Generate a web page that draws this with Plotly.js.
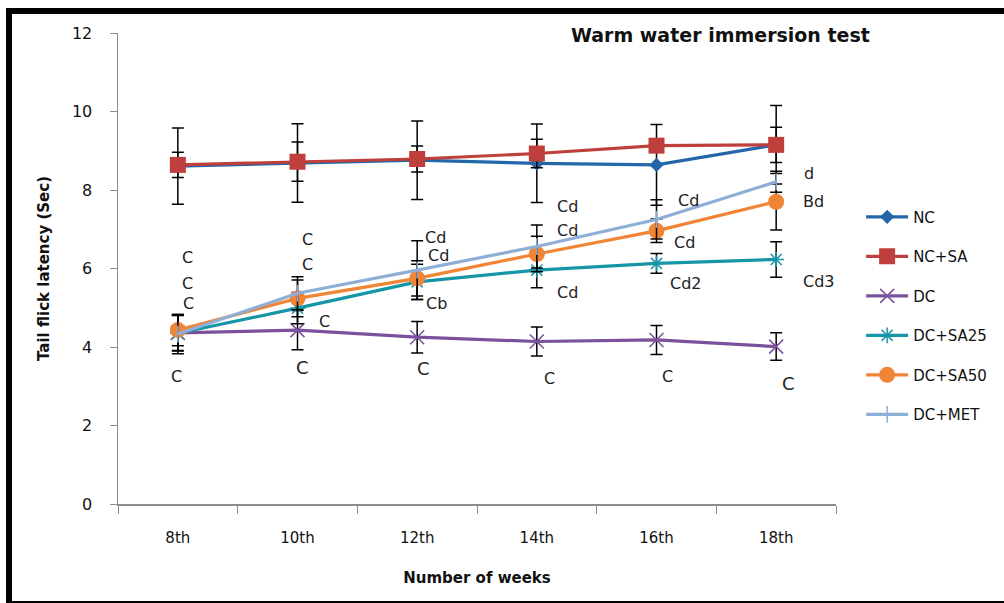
<!DOCTYPE html>
<html>
<head>
<meta charset="utf-8">
<script src="https://cdn.plot.ly/plotly-3.0.1.min.js"></script>
<style>
html,body{margin:0;padding:0;background:#fff;overflow:hidden;}
#chart{width:1004px;height:603px;}
#frame{position:absolute;left:6px;top:8px;width:1010px;height:599px;box-sizing:border-box;border:6px solid #000;pointer-events:none;}
</style>
</head>
<body>
<div id="chart"></div>
<div id="frame"></div>
<script>
const weeks = ["8th", "10th", "12th", "14th", "16th", "18th"];

const nc        = [8.61, 8.69, 8.76, 8.68, 8.64, 9.15];
const ncErr     = [0.97, 1.00, 1.00, 1.00, 1.03, 1.00];
const ncSa      = [8.64, 8.72, 8.79, 8.93, 9.13, 9.15];
const ncSaErr   = [0.32, 0.50, 0.33, 0.36, 0.17, 0.45];
const dc        = [4.36, 4.43, 4.25, 4.14, 4.18, 4.01];
const dcErr     = [0.45, 0.50, 0.40, 0.37, 0.37, 0.35];
const dcSa25    = [4.35, 4.99, 5.66, 5.96, 6.13, 6.23];
const dcSa25Err = [0.45, 0.40, 0.45, 0.45, 0.25, 0.45];
const dcSa50    = [4.43, 5.24, 5.75, 6.37, 6.96, 7.70];
const dcSa50Err = [0.40, 0.47, 0.45, 0.45, 0.30, 0.72];
const dcMet     = [4.33, 5.37, 5.96, 6.56, 7.25, 8.21];
const dcMetErr  = [0.50, 0.42, 0.75, 0.55, 0.50, 0.27];

// significance letters: [category index position, y value, text, size]
const sigLabels = [
  [0.02, 6.27, "C", 16], [0.02, 5.63, "C", 16], [0.03, 5.12, "C", 16], [-0.07, 3.26, "C", 16],
  [1.02, 6.73, "C", 16], [1.02, 6.11, "C", 16], [1.16, 4.66, "C", 16], [0.97, 3.49, "C", 18],
  [2.05, 6.80, "Cd", 16], [2.07, 6.34, "Cd", 16], [2.06, 5.10, "Cb", 16], [1.98, 3.44, "C", 18],
  [3.15, 7.57, "Cd", 16], [3.15, 6.96, "Cd", 16], [3.15, 5.38, "Cd", 16], [3.04, 3.21, "C", 16],
  [4.16, 7.72, "Cd", 16], [4.13, 6.65, "Cd", 16], [4.10, 5.61, "Cd2", 16], [4.03, 3.24, "C", 16],
  [5.22, 8.43, "d", 16], [5.21, 7.71, "Bd", 16], [5.21, 5.66, "Cd3", 16], [5.03, 3.06, "C", 18]
];

function series(name, y, err, color, symbol, msize, mline) {
  return {
    type: "scatter", mode: "lines+markers", name: name, x: weeks, y: y,
    legendgroup: name,
    line: {color: color, width: 3.2},
    marker: {symbol: symbol, size: msize, color: color, line: {color: color, width: mline}},
    error_y: {type: "data", array: err, visible: true, color: "#000", thickness: 1.5, width: 6}
  };
}

const data = [
  series("NC", nc, ncErr, "#2367A8", "diamond", 11, 0),
  series("NC+SA", ncSa, ncSaErr, "#BE3F3B", "square", 16, 0),
  series("DC", dc, dcErr, "#7B519D", "x-thin-open", 14, 1.5),
  series("DC+SA25", dcSa25, dcSa25Err, "#1596A6", "asterisk-open", 13, 1.5),
  series("DC+SA50", dcSa50, dcSa50Err, "#F08536", "circle", 16, 0),
  series("DC+MET", dcMet, dcMetErr, "#8DAFD7", "line-ns-open", 12, 1.5)
];

const annotations = sigLabels.map(s => ({
  x: s[0], y: s[1], xref: "x", yref: "y", text: s[2], showarrow: false,
  xanchor: "left", yanchor: "middle",
  font: {family: "DejaVu Sans, sans-serif", size: s[3], color: "#222"}
}));

const layout = {
  width: 1004, height: 603,
  margin: {l: 118, r: 166, t: 33, b: 99},
  paper_bgcolor: "#fff", plot_bgcolor: "#fff",
  showlegend: true,
  title: {
    text: "<b>Warm water immersion test</b>",
    font: {family: "DejaVu Sans, sans-serif", size: 19, color: "#111"},
    x: 0.839, xref: "paper", xanchor: "center", y: 0.942, yref: "container", yanchor: "middle"
  },
  xaxis: {
    type: "category", range: [-0.5, 5.5],
    showline: true, linecolor: "#8c8c8c", linewidth: 1.5,
    ticks: "outside", ticklen: 8, tickcolor: "#8c8c8c", tickson: "boundaries",
    ticklabelstandoff: 19,
    showgrid: false, zeroline: false,
    tickfont: {family: "DejaVu Sans, sans-serif", size: 15, color: "#111"},
    title: {text: "<b>Number of weeks</b>", standoff: 27,
      font: {family: "DejaVu Sans, sans-serif", size: 15, color: "#111"}}
  },
  yaxis: {
    range: [0, 12], dtick: 2, tick0: 0,
    showline: true, linecolor: "#8c8c8c", linewidth: 1.5,
    ticks: "outside", ticklen: 7, tickcolor: "#8c8c8c",
    ticklabelstandoff: 14,
    showgrid: false, zeroline: false,
    tickfont: {family: "DejaVu Sans, sans-serif", size: 16, color: "#111"},
    title: {text: "<b>Tail flick latency (Sec)</b>", standoff: 18,
      font: {family: "DejaVu Sans, sans-serif", size: 15, color: "#111"}}
  },
  legend: {
    x: 1.035, xanchor: "left", y: 0.40, yanchor: "middle",
    font: {family: "DejaVu Sans, sans-serif", size: 15, color: "#111"},
    tracegroupgap: 17, itemwidth: 42, bgcolor: "rgba(0,0,0,0)"
  },
  annotations: annotations
};

Plotly.newPlot("chart", data, layout, {displayModeBar: false, staticPlot: true});
</script>
</body>
</html>
